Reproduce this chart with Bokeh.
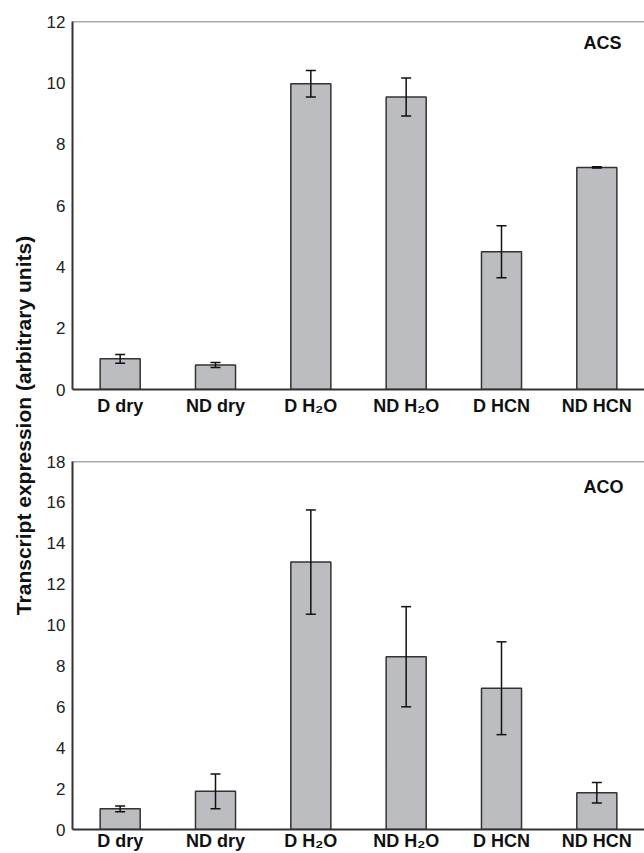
from bokeh.plotting import figure
from bokeh.models import (ColumnDataSource, FactorRange, Range1d, Whisker, TeeHead,
                          Label, FixedTicker, Span)
from bokeh.layouts import row, column
from bokeh.embed import file_html
from bokeh.resources import INLINE

# ---------------- data ----------------
categories = ["D dry", "ND dry", "D H\u2082O", "ND H\u2082O", "D HCN", "ND HCN"]

acs_mean = [1.00, 0.80, 9.97, 9.54, 4.49, 7.24]
acs_err = [0.14, 0.08, 0.43, 0.62, 0.85, 0.02]

aco_mean = [1.01, 1.87, 13.08, 8.45, 6.91, 1.80]
aco_err = [0.14, 0.85, 2.55, 2.45, 2.27, 0.50]

acs_ticks = [0, 2, 4, 6, 8, 10, 12]
aco_ticks = [0, 2, 4, 6, 8, 10, 12, 14, 16, 18]

y_label = "Transcript expression (arbitrary units)"

FONT = "Liberation Sans"
BAR_FILL = "#bcbdc0"
DARK = "#333333"


def make_panel(mean, err, ticks, title, title_pos, height, b_top, b_bottom, x_standoff):
    src = ColumnDataSource(dict(
        x=categories,
        top=mean,
        upper=[m + e for m, e in zip(mean, err)],
        lower=[m - e for m, e in zip(mean, err)],
    ))
    p = figure(width=604, height=height, x_range=FactorRange(*categories, range_padding=0),
               y_range=Range1d(0, ticks[-1]), output_backend="svg", toolbar_location=None,
               min_border_left=32, min_border_right=0, min_border_top=b_top,
               min_border_bottom=b_bottom)
    p.outline_line_color = None
    p.grid.visible = False

    p.vbar(x="x", top="top", width=0.42, source=src, fill_color=BAR_FILL,
           line_color=DARK, line_width=1.5)

    w = Whisker(base="x", upper="upper", lower="lower", source=src, dimension="height",
                line_color="#111111", line_width=1.5,
                upper_head=TeeHead(size=10, line_color="#111111", line_width=1.5),
                lower_head=TeeHead(size=10, line_color="#111111", line_width=1.5))
    w.level = "overlay"
    p.add_layout(w)

    for ax in p.axis:
        ax.axis_line_color = DARK
        ax.axis_line_width = 2
        ax.major_tick_out = 0
        ax.major_tick_in = 0
        ax.minor_tick_out = 0
        ax.minor_tick_in = 0
    p.yaxis.ticker = FixedTicker(ticks=ticks)
    p.yaxis.major_label_text_font = FONT
    p.yaxis.major_label_text_font_size = "17px"
    p.yaxis.major_label_text_color = "#222222"
    p.yaxis.major_label_standoff = 7

    p.xaxis.major_label_text_font = FONT
    p.xaxis.major_label_text_font_size = "18px"
    p.xaxis.major_label_text_font_style = "bold"
    p.xaxis.major_label_text_color = "#111111"
    p.xaxis.major_label_standoff = x_standoff
    p.xaxis.major_label_text_line_height = 0.9

    # top frame line
    p.add_layout(Span(location=ticks[-1], dimension="width", line_color="#555555",
                      line_width=1.5))

    p.add_layout(Label(x=title_pos[0], y=title_pos[1], text=title, text_align="right",
                       text_baseline="middle", text_font=FONT, text_font_style="bold",
                       text_font_size="18px", text_color="#111111"))
    return p


top = make_panel(acs_mean, acs_err, acs_ticks, "ACS", (5.76, 11.31), 430, 21, 41, 6)
bot = make_panel(aco_mean, aco_err, aco_ticks, "ACO", (5.78, 16.75), 423, 31, 24, 1)

lab = figure(width=40, height=853, x_range=Range1d(0, 40), y_range=Range1d(0, 853),
             output_backend="svg", toolbar_location=None, min_border=0,
             x_axis_location=None, y_axis_location=None)
lab.outline_line_color = None
lab.grid.visible = False
lab.add_layout(Label(x=23, y=428, text=y_label, angle=90, angle_units="deg",
                     text_align="center", text_baseline="middle", text_font=FONT,
                     text_font_style="bold", text_font_size="21px", text_color="#111111"))

p = row(lab, column(top, bot))

open("out.html", "w").write(file_html(p, INLINE))
